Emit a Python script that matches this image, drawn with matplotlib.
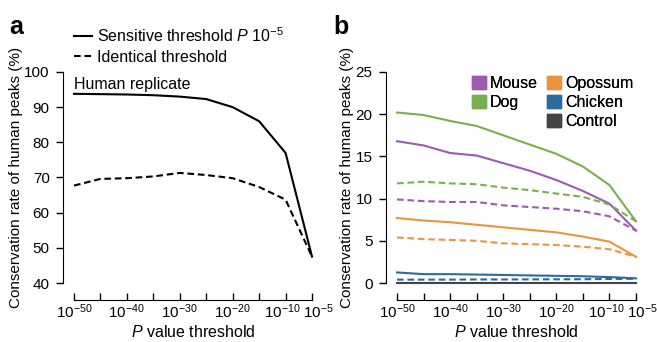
import matplotlib
matplotlib.use("Agg")
import matplotlib.pyplot as plt
import matplotlib.transforms as mtrans
from matplotlib.lines import Line2D
from matplotlib.patches import Patch

plt.rcParams['font.family'] = ['Liberation Sans', 'DejaVu Sans']
plt.rcParams['mathtext.fontset'] = 'custom'
plt.rcParams['mathtext.rm'] = 'Liberation Sans'
plt.rcParams['mathtext.it'] = 'Liberation Sans:italic'
plt.rcParams['font.size'] = 11

# P value exponents (10^x)
p_exp = [-50, -45, -40, -35, -30, -25, -20, -15, -10, -5]
label_exp = [-50, -40, -30, -20, -10, -5]

# panel a: human replicate
human_sens = [93.8, 93.7, 93.6, 93.4, 93.0, 92.3, 90.0, 86.0, 77.0, 47.5]
human_ident = [67.7, 69.6, 69.8, 70.3, 71.3, 70.7, 69.8, 67.3, 63.7, 47.5]

# panel b: other species
species = ['Mouse', 'Dog', 'Opossum', 'Chicken', 'Control']
colors = {'Mouse': '#9b5bae', 'Dog': '#7bae4c', 'Opossum': '#e8953e',
          'Chicken': '#2b6c9c', 'Control': '#444444'}
sens = {
    'Mouse':   [16.8, 16.3, 15.4, 15.1, 14.2, 13.3, 12.2, 10.9, 9.4, 6.2],
    'Dog':     [20.2, 19.9, 19.2, 18.6, 17.5, 16.4, 15.3, 13.8, 11.6, 7.3],
    'Opossum': [7.7, 7.4, 7.2, 6.9, 6.6, 6.3, 6.0, 5.5, 4.9, 3.1],
    'Chicken': [1.25, 1.05, 1.05, 1.0, 0.95, 0.9, 0.85, 0.8, 0.7, 0.55],
    'Control': [0.02] * 10,
}
ident = {
    'Mouse':   [9.9, 9.7, 9.6, 9.6, 9.2, 9.0, 8.8, 8.5, 7.9, 6.2],
    'Dog':     [11.8, 12.0, 11.8, 11.7, 11.3, 11.0, 10.6, 10.2, 9.3, 7.3],
    'Opossum': [5.4, 5.2, 5.1, 5.0, 4.7, 4.6, 4.5, 4.3, 4.0, 3.1],
    'Chicken': [0.4, 0.4, 0.4, 0.42, 0.42, 0.43, 0.44, 0.45, 0.48, 0.5],
}

DASH = (0, (3.2, 1.8))


def style_axis(ax, ylim, yticks):
    ax.set_xlim(-50, -5)
    ax.set_ylim(*ylim)
    ax.set_yticks(yticks)
    ax.set_xticks(label_exp)
    ax.set_xticks([-45, -35, -25, -15], minor=True)
    ax.set_xticklabels([f'$10^{{{e}}}$' for e in label_exp])
    for s in ['top', 'right']:
        ax.spines[s].set_visible(False)
    ax.spines['left'].set_position(('outward', 8))
    ax.spines['bottom'].set_position(('outward', 12))
    ax.tick_params(axis='x', which='both', direction='in', length=5, width=1,
                   pad=2, labelsize=11)
    ax.tick_params(axis='y', direction='out', length=5, width=1, pad=4.5,
                   labelsize=11)
    # last two labels sit close together: nudge them apart like the original
    labs = ax.get_xticklabels()
    labs[-2].set_transform(labs[-2].get_transform() +
                           mtrans.ScaledTranslation(-0.03, 0, fig.dpi_scale_trans))
    labs[-1].set_transform(labs[-1].get_transform() +
                           mtrans.ScaledTranslation(0.06, 0, fig.dpi_scale_trans))
    ax.set_xlabel('$\\mathit{P}$ value threshold', fontsize=11.5, labelpad=2)
    ax.set_ylabel('Conservation rate of human peaks (%)', fontsize=11, labelpad=1)


fig = plt.figure(figsize=(6.57, 3.42), dpi=100)
ax1 = fig.add_axes([0.1126, 0.1725, 0.3623, 0.617])
ax2 = fig.add_axes([0.6043, 0.1725, 0.3638, 0.617])

ax1.plot(p_exp, human_sens, color='black', lw=1.5, clip_on=False)
ax1.plot(p_exp, human_ident, color='black', lw=1.5, ls=DASH, clip_on=False)
ax1.text(-50, 94.3, 'Human replicate', fontsize=11.5, va='bottom')
style_axis(ax1, (40, 100), range(40, 101, 10))

for sp in species:
    ax2.plot(p_exp, sens[sp], color=colors[sp], lw=1.5, clip_on=False)
    if sp in ident:
        ax2.plot(p_exp, ident[sp], color=colors[sp], lw=1.5, ls=DASH, clip_on=False)
style_axis(ax2, (0, 25), range(0, 26, 5))

thr_handles = [Line2D([], [], color='black', lw=1.5),
               Line2D([], [], color='black', lw=1.5, ls=DASH)]
for ax, lab in [(ax1, 'Sensitive threshold $\\mathit{P}$ 10$^{-5}$'),
                (ax2, 'Sentitive threshold $\\mathit{P}$ 10$^{-5}$')]:
    ax.legend(thr_handles, [lab, 'Identical threshold'], loc='lower left',
              bbox_to_anchor=(0.0, 1.035), frameon=False, handlelength=1.15,
              handletextpad=0.3, labelspacing=0.3, borderpad=0, borderaxespad=0,
              fontsize=11.5)

sp_handles = [Patch(color=colors['Mouse']), Patch(color=colors['Dog']),
              Patch(color='none'), Patch(color=colors['Opossum']),
              Patch(color=colors['Chicken']), Patch(color=colors['Control'])]
sp_labels = ['Mouse', 'Dog', '', 'Opossum', 'Chicken', 'Control']
leg = ax2.legend(sp_handles, sp_labels, ncol=2, loc='upper left',
                 bbox_to_anchor=(0.314, 0.98), frameon=False, handlelength=0.85,
                 handleheight=0.85, handletextpad=0.25, labelspacing=0.25,
                 columnspacing=0.6, borderpad=0, borderaxespad=0, fontsize=11.5)
ax2.add_artist(leg)

fig.text(0.014, 0.955, 'a', fontsize=18, fontweight='bold', va='top')
fig.text(0.508, 0.955, 'b', fontsize=18, fontweight='bold', va='top')

fig.savefig('out.png', dpi=100)
